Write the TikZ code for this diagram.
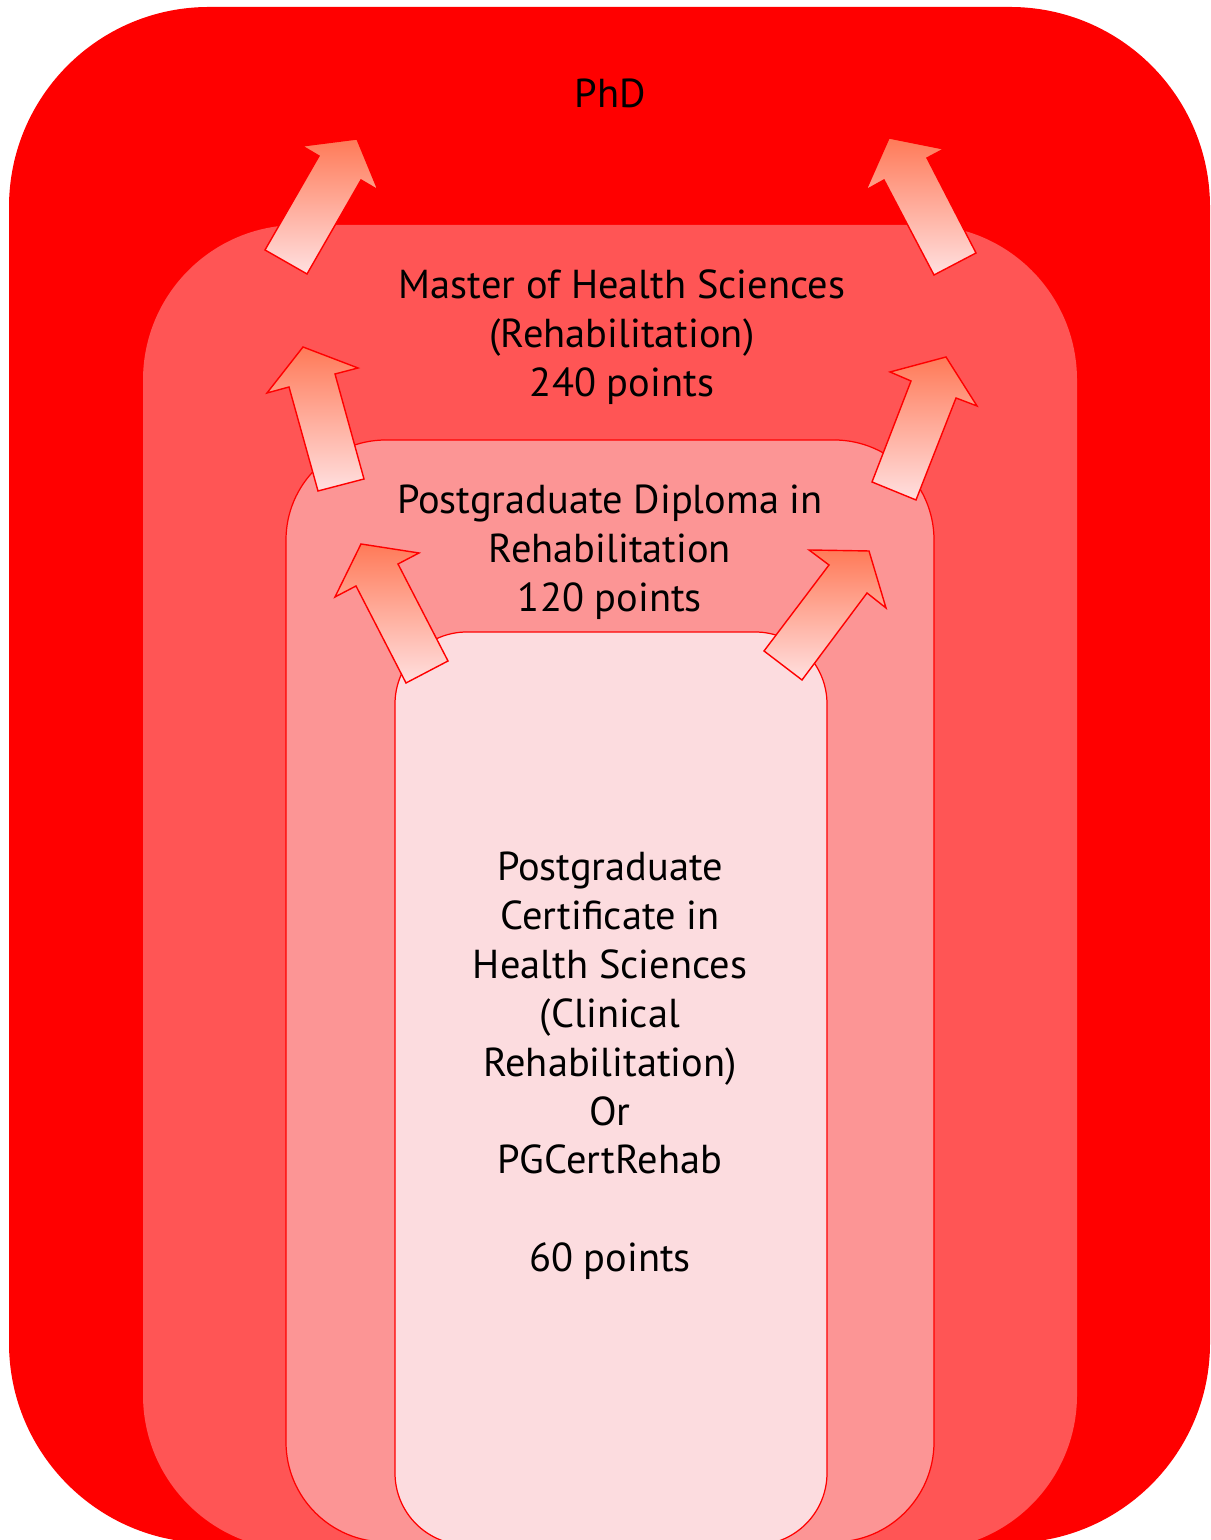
\documentclass[tikz,border=0pt]{standalone}
\usepackage{fontspec}
\setmainfont{PT Sans}
\definecolor{phdred}{HTML}{FF0000}
\definecolor{masterred}{HTML}{FF5555}
\definecolor{diplomared}{HTML}{FC9595}
\definecolor{certpink}{HTML}{FCDCDF}
\definecolor{arrowhead}{HTML}{FF7A58}
\definecolor{arrowmid}{HTML}{FFB2A8}
\definecolor{arrowtail}{HTML}{FFE0E0}
\tikzset{
	level/.style={line width=0.7pt},
	leveltext/.style={align=center, text=black, font=\fontsize{23}{27.8}\selectfont},
	uparrow/.style={draw=red, line width=0.8pt, top color=arrowhead, middle color=arrowmid, bottom color=arrowtail}
}

\begin{document}
\begin{tikzpicture}[x=0.02cm, y=0.02cm]
		\useasboundingbox (0,0) rectangle (1210,1540);
		\clip (0,0) rectangle (1210,1540);
		\fill [phdred, rounded corners=4cm] (9,-3) rectangle (1210,1533);
		\fill [masterred, rounded corners=3.1cm] (143,-10) rectangle (1077,1315);
		\draw [level, draw=red, fill=diplomared, rounded corners=2cm] (286,-2) rectangle (934,1100);
		\draw [level, draw=red, fill=certpink, rounded corners=1.44cm] (395,-5) rectangle (827,908);
		\node [leveltext] (phd) at (610,1447) {PhD};
		\node [leveltext] (master) at (622,1203) {Master of Health Sciences\\(Rehabilitation)\\240 points};
		\node [leveltext] (diploma) at (610,988) {Postgraduate Diploma in\\Rehabilitation\\120 points};
		\node [leveltext] (cert) at (610,474) {Postgraduate\\Certificate in\\Health Sciences\\(Clinical\\Rehabilitation)\\Or\\PGCertRehab\\[27.8pt]60 points};
		\draw [uparrow] (265,1290) -- (319,1384) -- (302,1394) -- (357,1401) -- (378,1350) -- (361,1360) -- (307,1266) -- cycle;
		\draw [uparrow] (934,1265) -- (884,1360) -- (866,1350) -- (889,1402) -- (944,1391) -- (927,1382) -- (976,1287) -- cycle;
		\draw [uparrow] (318,1049) -- (289,1153) -- (267,1147) -- (303,1193) -- (358,1172) -- (335,1166) -- (364,1061) -- cycle;
		\draw [uparrow] (872,1058) -- (911,1159) -- (890,1168) -- (946,1183) -- (977,1134) -- (956,1142) -- (916,1040) -- cycle;
		\draw [uparrow] (406,857) -- (356,954) -- (335,943) -- (361,996) -- (419,987) -- (398,976) -- (448,879) -- cycle;
		\draw [uparrow] (764,889) -- (829,975) -- (809,990) -- (869,989) -- (886,932) -- (867,947) -- (802,860) -- cycle;
	\end{tikzpicture}
\end{document}
